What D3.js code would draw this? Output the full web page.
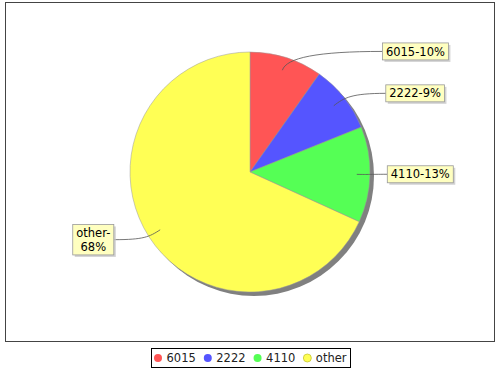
<!DOCTYPE html>
<html>
<head>
<meta charset="utf-8">
<script src="https://cdn.jsdelivr.net/npm/d3@7"></script>
<style>
  html, body { margin: 0; padding: 0; background: #fff; }
  svg { display: block; font-family: "DejaVu Sans", sans-serif; }
</style>
</head>
<body>
<svg id="chart" width="500" height="370"></svg>
<script>
// ---- data ----
const categories = ["6015", "2222", "4110", "other"];
const values = [9.8, 9.1, 12.9, 68.2];
const colors = ["#ff5555", "#5555ff", "#55ff55", "#ffff55"];

// ---- layout ----
const W = 500, H = 370;
const cx = 250, cy = 172, R = 120;
const fontSize = 11.5;

const svg = d3.select("#chart");

// plot frame
svg.append("rect")
  .attr("x", 5.5).attr("y", 2.5).attr("width", 489).attr("height", 339)
  .attr("fill", "#fff").attr("stroke", "#444").attr("stroke-width", 1);

const total = d3.sum(values);
const data = categories.map((c, i) => ({ name: c, value: values[i], color: colors[i] }));
const pie = d3.pie().sort(null).value(d => d.value).startAngle(0).endAngle(2 * Math.PI);
const arcs = pie(data);
const arc = d3.arc().innerRadius(0).outerRadius(R);

const g = svg.append("g").attr("transform", `translate(${cx},${cy})`);

// shadow
g.append("circle").attr("cx", 4).attr("cy", 4).attr("r", R).attr("fill", "#808080");

// slices
g.selectAll("path.slice").data(arcs).enter().append("path")
  .attr("class", "slice")
  .attr("d", arc)
  .attr("fill", d => d.data.color)
  .attr("stroke", "#999")
  .attr("stroke-width", 0.5);

// labels
const labelG = svg.append("g");
arcs.forEach(a => {
  const mid = (a.startAngle + a.endAngle) / 2;
  const s = Math.sin(mid), c = Math.cos(mid);
  const right = s >= 0;
  const pct = d3.format(".0%")(a.data.value / total);
  const lines = right ? [a.data.name + "-" + pct] : [a.data.name + "-", pct];
  const ly = cy - 0.5 - c * 126;

  // measure text
  const tmp = labelG.append("g");
  const widths = lines.map(t => {
    const el = tmp.append("text").attr("font-size", fontSize).text(t);
    return el.node().getComputedTextLength();
  });
  tmp.remove();
  const tw = d3.max(widths);
  const lineH = 13.5;
  const bw = tw + 7, bh = lines.length * lineH + 3.5;
  const edgeX = right ? cx + 130.3 + 7 * Math.abs(s) : cx - 130.3 - 7 * Math.abs(s);
  const bx = right ? edgeX : edgeX - bw;
  const by = ly - bh / 2;

  // link
  const p0 = [cx + s * R * 0.89, cy - c * R * 0.89];
  const p1 = [cx + s * R, cy - c * R];
  const p3 = [edgeX, ly];
  const p2 = [p0[0] + 0.35 * (p3[0] - p0[0]), ly];
  const path = d3.path();
  path.moveTo(p0[0], p0[1]);
  path.bezierCurveTo(p1[0], p1[1], p2[0], p2[1], p3[0], p3[1]);
  labelG.append("path").attr("d", path.toString())
    .attr("fill", "none").attr("stroke", "#555").attr("stroke-width", 0.8);

  // shadow + box
  labelG.append("rect").attr("x", bx + 2).attr("y", by + 2).attr("width", bw).attr("height", bh)
    .attr("fill", "#c8c8c8").attr("opacity", 0.8);
  labelG.append("rect").attr("x", bx).attr("y", by).attr("width", bw).attr("height", bh)
    .attr("fill", "#ffffc0").attr("stroke", "#999").attr("stroke-width", 0.8);
  lines.forEach((t, i) => {
    labelG.append("text")
      .attr("x", bx + bw / 2)
      .attr("y", by + 1.75 + lineH * i + lineH / 2)
      .attr("dy", "0.36em")
      .attr("text-anchor", "middle")
      .attr("font-size", fontSize)
      .attr("fill", "#000")
      .text(t);
  });
});

// legend
const lg = svg.append("g");
const items = data.map(d => {
  const el = lg.append("text").attr("font-size", fontSize).attr("fill", "#222").text(d.name);
  return { d, el, tw: el.node().getComputedTextLength() };
});
const gap = 7.5, pad = 3;
const totalW = d3.sum(items, it => 13 + it.tw) + gap * (items.length - 1) + pad * 2;
const lx0 = cx - totalW / 2;
const ly0 = 348.5, lh = 19;
lg.insert("rect", ":first-child")
  .attr("x", Math.round(lx0) + 0.5).attr("y", ly0).attr("width", Math.round(totalW)).attr("height", lh)
  .attr("fill", "#fff").attr("stroke", "#000").attr("stroke-width", 1);
let x = lx0 + pad;
items.forEach(it => {
  lg.append("circle").attr("cx", x + 4.5).attr("cy", ly0 + lh / 2).attr("r", 4)
    .attr("fill", it.d.color)
    .attr("stroke", it.d.name === "other" ? "#c8c832" : "none").attr("stroke-width", 0.8);
  it.el.attr("x", x + 13).attr("y", ly0 + lh / 2).attr("dy", "0.36em").raise();
  x += 13 + it.tw + gap;
});
</script>
</body>
</html>
